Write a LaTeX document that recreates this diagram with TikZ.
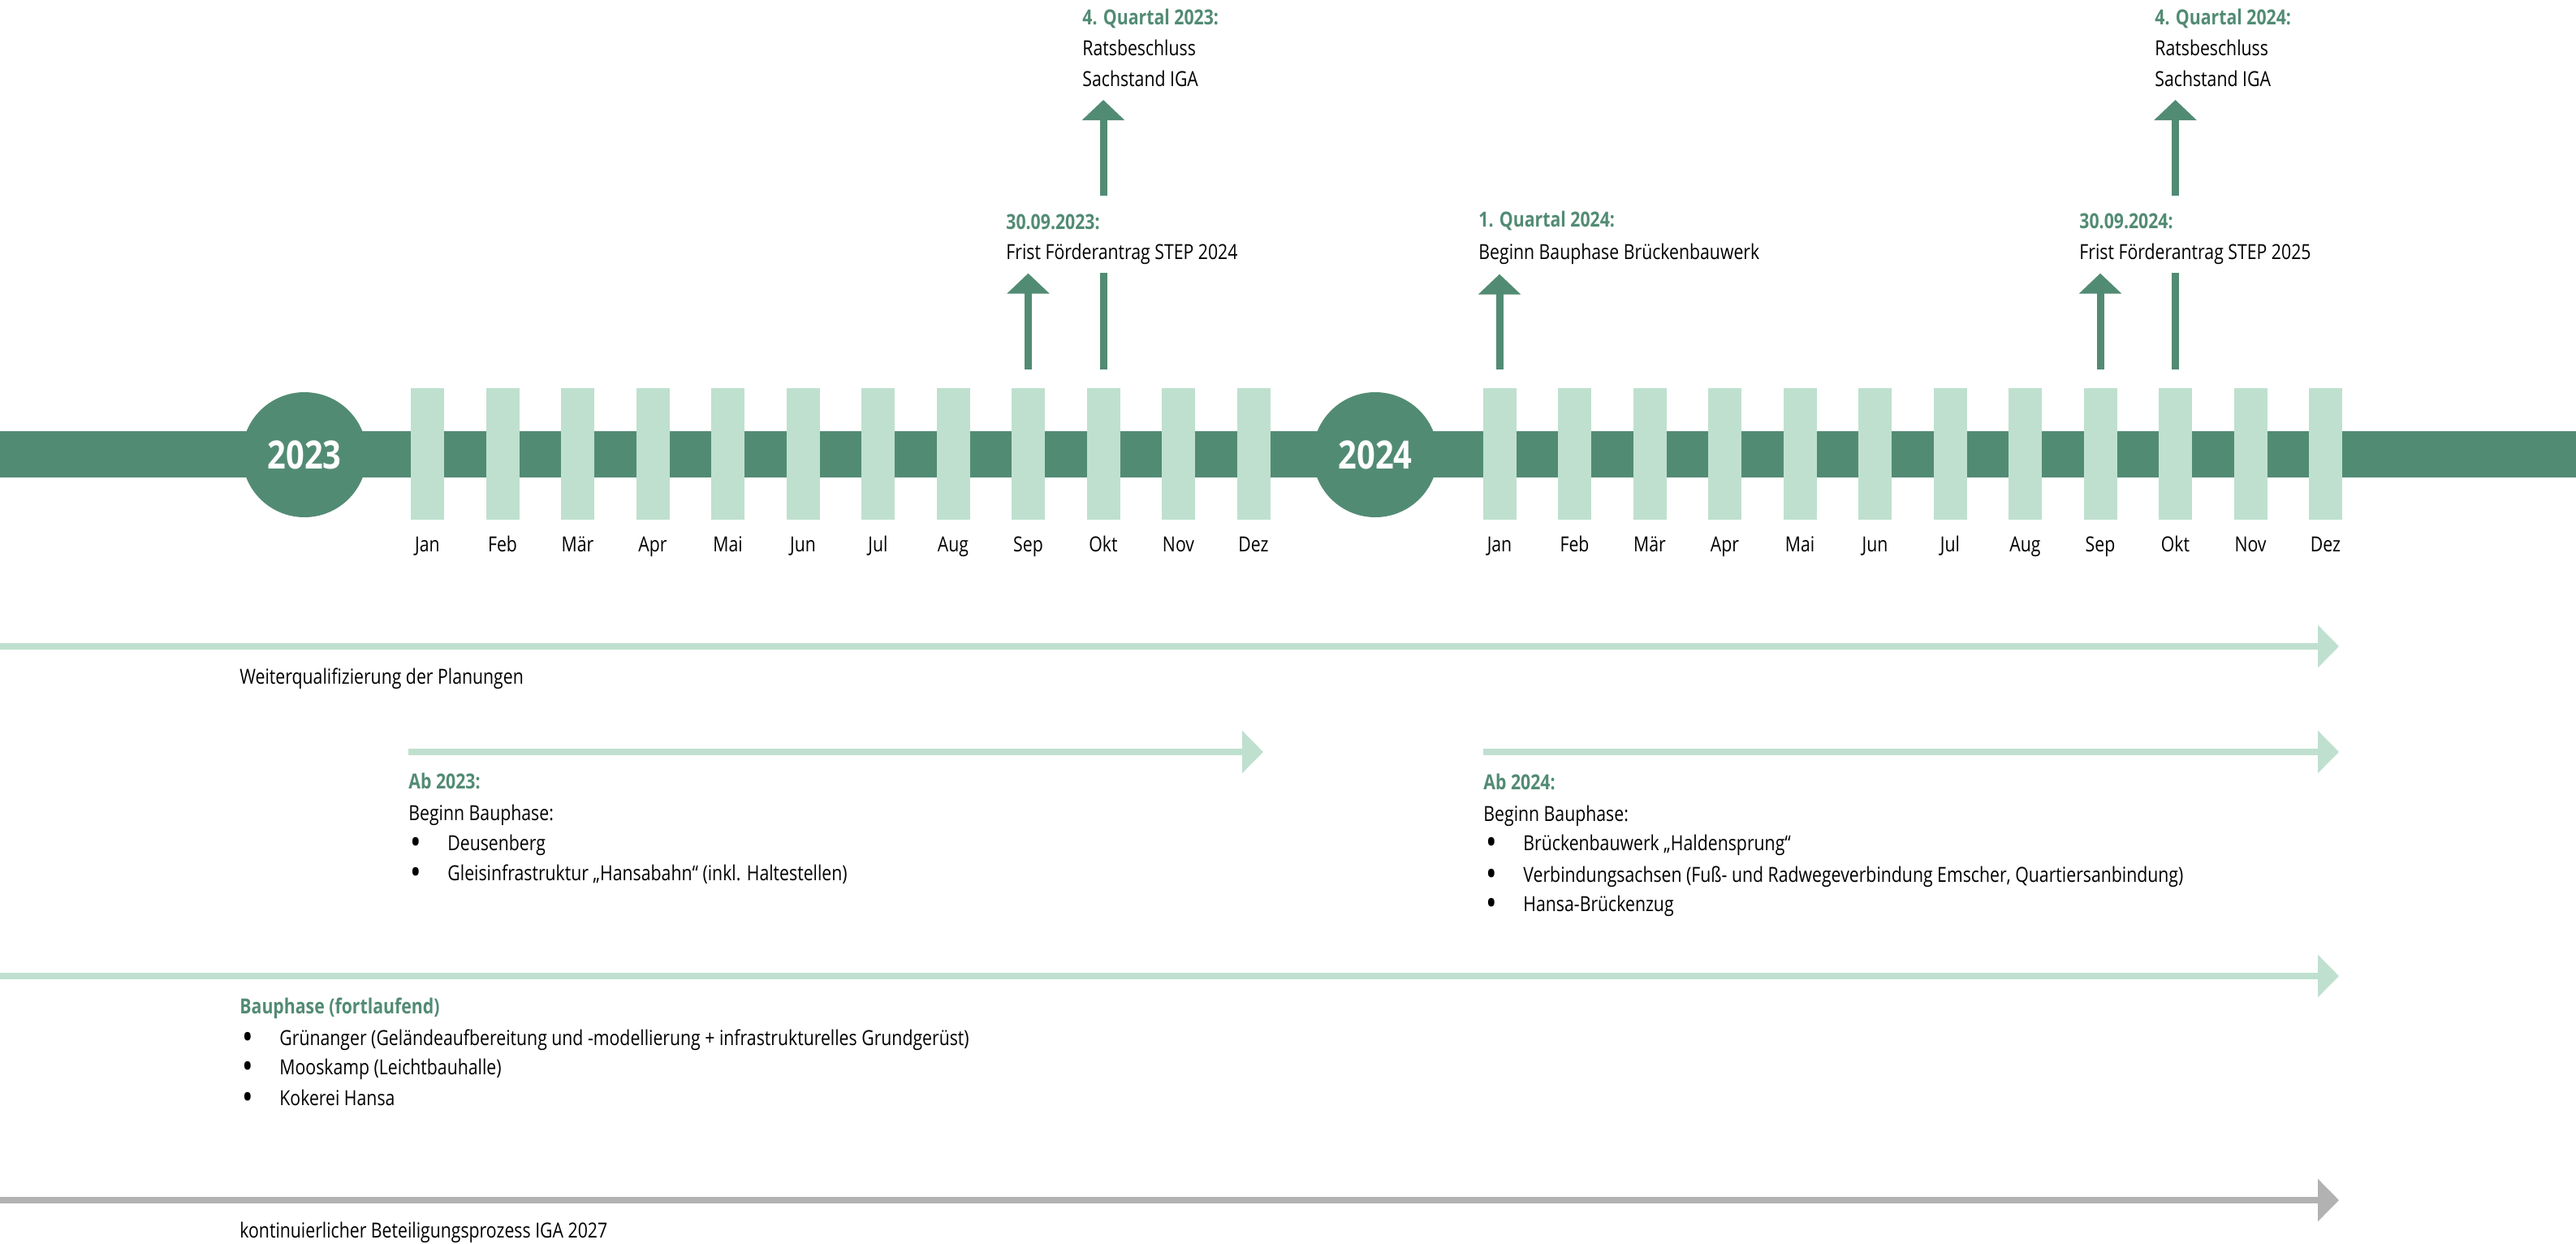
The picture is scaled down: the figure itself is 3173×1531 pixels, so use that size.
\documentclass[tikz,border=0pt]{standalone}
\usepackage{fontspec}
\setmainfont{Open Sans}[FakeStretch=0.83]
\usetikzlibrary{arrows.meta}
\definecolor{dkgreen}{RGB}{82,139,116}
\definecolor{ltgreen}{RGB}{191,224,207}
\definecolor{midgray}{RGB}{178,178,178}
\newcommand\mybul[1]{\makebox[23pt][l]{\smash{\raisebox{-0.2em}{\scalebox{1.7}{\textbullet}}}}#1}
\begin{document}
\begin{tikzpicture}[x=0.5pt,y=-0.5pt,
  txt/.style={font=\fontsize{12.8}{18.75}\selectfont, inner sep=0pt, anchor=base west},
  hl/.style={txt, text=dkgreen, font=\fontsize{12.8}{18.75}\selectfont\bfseries},
  monthbar/.style={fill=ltgreen, minimum width=20.5pt, minimum height=81pt, inner sep=0pt},
  monthlbl/.style={font=\fontsize{12.8}{15}\selectfont, inner sep=0pt, anchor=base},
  yearc/.style={circle, fill=dkgreen, minimum size=77pt, inner sep=0pt, text=white, font=\fontsize{24}{24}\selectfont\bfseries},
  varrow/.style={draw=dkgreen, line width=4.5pt, -{Triangle[width=25.5pt,length=12.5pt]}},
  vline/.style={draw=dkgreen, line width=4.5pt},
  harrow/.style={line width=4pt, -{Triangle[width=25.5pt,length=13pt]}},
]
\useasboundingbox (0,0) rectangle (3173,1531);
% main timeline bar
\fill[dkgreen] (0,531) rectangle (3173,588);
\node[yearc] (y23) at (375,560) {2023};
\node[yearc] (y24) at (1694,560) {2024};
\foreach \m [count=\i from 0] in {Jan,Feb,Mär,Apr,Mai,Jun,Jul,Aug,Sep,Okt,Nov,Dez} {
  \node[monthbar] (a\i) at ({526.5+92.5*\i},559) {};
  \node[monthlbl] (la\i) at ({526.5+92.5*\i},679) {\m};
  \node[monthbar] (b\i) at ({1847+92.5*\i},559) {};
  \node[monthlbl] (lb\i) at ({1847+92.5*\i},679) {\m};
}
% vertical milestone arrows
\draw[varrow] ([yshift=11.5pt]a8.north) -- ++(0,-118);
\draw[vline] ([yshift=11.5pt]a9.north) -- ++(0,-119);
\draw[varrow] (a9.north |- 0,241) -- (a9.north |- 0,123);
\draw[varrow] ([yshift=11.5pt]b0.north) -- ++(0,-117);
\draw[varrow] ([yshift=11.5pt]b8.north) -- ++(0,-118);
\draw[vline] ([yshift=11.5pt]b9.north) -- ++(0,-119);
\draw[varrow] (b9.north |- 0,241) -- (b9.north |- 0,123);
% milestone texts
\node[hl]  (q23a) at (1333,31) {4. Quartal 2023:};
\node[txt] (q23b) at (1333,68) {Ratsbeschluss};
\node[txt] (q23c) at (1333,106) {Sachstand IGA};
\node[hl]  (d23a) at (1239,282) {30.09.2023:};
\node[txt] (d23b) at (1239,319) {Frist Förderantrag STEP 2024};
\node[hl]  (q1a) at (1821,279) {1. Quartal 2024:};
\node[txt] (q1b) at (1821,319) {Beginn Bauphase Brückenbauwerk};
\node[hl]  (d24a) at (2561,281) {30.09.2024:};
\node[txt] (d24b) at (2561,319) {Frist Förderantrag STEP 2025};
\node[hl]  (q24a) at (2654,30) {4. Quartal 2024:};
\node[txt] (q24b) at (2654,68) {Ratsbeschluss};
\node[txt] (q24c) at (2654,106) {Sachstand IGA};
% horizontal arrows
\coordinate (w0) at (0,796);   \coordinate (w1) at (2881,796);
\coordinate (e0) at (503,926); \coordinate (e1) at (1556,926);
\coordinate (f0) at (1827,926);\coordinate (f1) at (2881,926);
\coordinate (g0) at (0,1202);  \coordinate (g1) at (2881,1202);
\coordinate (h0) at (0,1478);  \coordinate (h1) at (2881,1478);
\draw[harrow, draw=ltgreen] (w0) -- (w1);
\draw[harrow, draw=ltgreen] (e0) -- (e1);
\draw[harrow, draw=ltgreen] (f0) -- (f1);
\draw[harrow, draw=ltgreen] (g0) -- (g1);
\draw[harrow, draw=midgray] (h0) -- (h1);
% phase texts
\node[txt] (wq) at (295,842) {Weiterqualifizierung der Planungen};
\node[hl]  (ab23) at (503,971) {Ab 2023:};
\node[txt] (ab23b) at (503,1010) {Beginn Bauphase:};
\node[txt] (ab23c) at (505,1047) {\mybul{Deusenberg}};
\node[txt] (ab23d) at (505,1084) {\mybul{Gleisinfrastruktur „Hansabahn“ (inkl. Haltestellen)}};
\node[hl]  (ab24) at (1827,972) {Ab 2024:};
\node[txt] (ab24b) at (1827,1011) {Beginn Bauphase:};
\node[txt] (ab24c) at (1830,1047) {\mybul{Brückenbauwerk „Haldensprung“}};
\node[txt] (ab24d) at (1830,1086) {\mybul{Verbindungsachsen (Fuß- und Radwegeverbindung Emscher, Quartiersanbindung)}};
\node[txt] (ab24e) at (1830,1122) {\mybul{Hansa-Brückenzug}};
\node[hl]  (bp) at (295,1248) {Bauphase (fortlaufend)};
\node[txt] (bpa) at (298,1287) {\mybul{Grünanger (Geländeaufbereitung und -modellierung + infrastrukturelles Grundgerüst)}};
\node[txt] (bpb) at (298,1323) {\mybul{Mooskamp (Leichtbauhalle)}};
\node[txt] (bpc) at (298,1361) {\mybul{Kokerei Hansa}};
\node[txt] (kb) at (295,1524) {kontinuierlicher Beteiligungsprozess IGA 2027};
\end{tikzpicture}
\end{document}
